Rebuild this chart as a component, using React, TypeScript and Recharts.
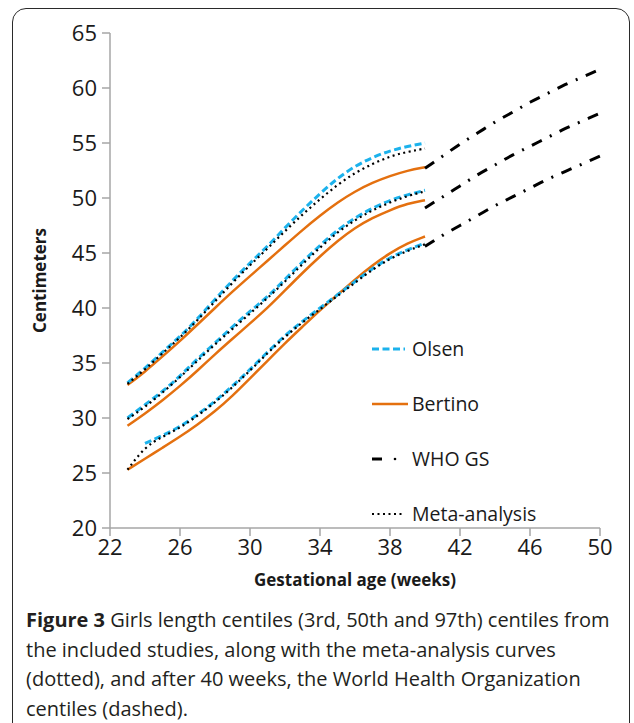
import React from "react";
import { LineChart, Line, XAxis, YAxis, Label } from "recharts";

// gestational weeks covered by the study curves and by the WHO extension
const studyWeeks = [23, 24, 25, 26, 27, 28, 29, 30, 31, 32, 33, 34, 35, 36, 37, 38, 39, 40];
const whoWeeks = [40, 41, 42, 43, 44, 45, 46, 47, 48, 49, 50];

// Olsen centiles (cm); 3rd centile starts at week 24
const olsen97 = [33.2, 34.5, 36.0, 37.4, 39.0, 40.8, 42.5, 44.1, 45.6, 47.3, 48.9, 50.4, 51.8, 52.9, 53.7, 54.3, 54.7, 55.0];
const olsen50 = [30.0, 31.2, 32.4, 33.8, 35.4, 36.8, 38.3, 39.7, 41.0, 42.6, 44.2, 45.7, 47.1, 48.2, 49.1, 49.8, 50.3, 50.7];
const olsen3 = [null, 27.7, 28.4, 29.2, 30.3, 31.5, 32.9, 34.4, 36.0, 37.5, 38.8, 40.0, 41.2, 42.4, 43.6, 44.6, 45.3, 45.9];

// Bertino centiles (cm)
const bertino97 = [33.0, 34.2, 35.6, 37.0, 38.5, 40.0, 41.5, 42.9, 44.3, 45.7, 47.1, 48.4, 49.6, 50.6, 51.4, 52.0, 52.5, 52.8];
const bertino50 = [29.3, 30.4, 31.6, 32.9, 34.3, 35.8, 37.2, 38.6, 40.0, 41.6, 43.2, 44.7, 46.1, 47.3, 48.2, 48.9, 49.5, 49.8];
const bertino3 = [25.3, 26.3, 27.3, 28.3, 29.4, 30.6, 32.0, 33.6, 35.2, 36.8, 38.3, 39.8, 41.2, 42.6, 43.9, 45.0, 45.9, 46.5];

// meta-analysis centiles (cm)
const meta97 = [33.1, 34.4, 35.9, 37.3, 38.9, 40.6, 42.3, 43.9, 45.4, 47.0, 48.5, 49.9, 51.2, 52.3, 53.1, 53.8, 54.2, 54.5];
const meta50 = [29.9, 31.0, 32.3, 33.7, 35.2, 36.7, 38.1, 39.5, 40.9, 42.4, 44.0, 45.5, 46.9, 48.0, 48.9, 49.6, 50.2, 50.6];
const meta3 = [25.3, 27.4, 28.3, 29.1, 30.2, 31.4, 32.8, 34.3, 35.9, 37.4, 38.7, 39.9, 41.1, 42.3, 43.5, 44.5, 45.2, 45.8];

// WHO growth standard centiles after 40 weeks (cm)
const who97 = [52.7, 53.8, 54.9, 55.9, 56.9, 57.8, 58.7, 59.5, 60.3, 61.0, 61.7];
const who50 = [49.1, 50.1, 51.1, 52.1, 53.0, 53.9, 54.7, 55.5, 56.3, 57.0, 57.7];
const who3 = [45.6, 46.6, 47.5, 48.4, 49.3, 50.1, 50.9, 51.7, 52.4, 53.1, 53.8];

const xTicks = [22, 26, 30, 34, 38, 42, 46, 50];
const yTicks = [20, 25, 30, 35, 40, 45, 50, 55, 60, 65];

const OLSEN = "#1cb2ec";
const BERTINO = "#e4700f";
const FONT = "'Open Sans', 'Noto Sans', sans-serif";

type Row = { week: number; [key: string]: number | null };

function buildRows(): Row[] {
  const rows: Record<number, Row> = {};
  const put = (weeks: number[], values: (number | null)[], key: string) => {
    weeks.forEach((w, i) => {
      if (!rows[w]) rows[w] = { week: w };
      rows[w][key] = values[i];
    });
  };
  put(studyWeeks, olsen97, "o97");
  put(studyWeeks, olsen50, "o50");
  put(studyWeeks, olsen3, "o3");
  put(studyWeeks, bertino97, "b97");
  put(studyWeeks, bertino50, "b50");
  put(studyWeeks, bertino3, "b3");
  put(studyWeeks, meta97, "m97");
  put(studyWeeks, meta50, "m50");
  put(studyWeeks, meta3, "m3");
  put(whoWeeks, who97, "w97");
  put(whoWeeks, who50, "w50");
  put(whoWeeks, who3, "w3");
  return Object.values(rows).sort((a, b) => a.week - b.week);
}

const data = buildRows();

const legendItems = [
  { name: "Olsen", kind: "olsen" },
  { name: "Bertino", kind: "bertino" },
  { name: "WHO GS", kind: "who" },
  { name: "Meta-analysis", kind: "meta" },
];

function LegendSymbol({ kind }: { kind: string }) {
  if (kind === "olsen")
    return <line x1={0} y1={8} x2={33} y2={8} stroke={OLSEN} strokeWidth={3} strokeDasharray="7 3.5" />;
  if (kind === "bertino")
    return <line x1={0} y1={8} x2={36} y2={8} stroke={BERTINO} strokeWidth={2.5} />;
  if (kind === "who")
    return (
      <g>
        <line x1={0} y1={8} x2={10} y2={8} stroke="#000" strokeWidth={3} />
        <circle cx={23} cy={8} r={1.3} fill="#000" />
      </g>
    );
  return <line x1={0} y1={8} x2={33} y2={8} stroke="#000" strokeWidth={2.2} strokeDasharray="2 3.5" />;
}

// legend drawn as an overlay so it does not eat into the plot area
function CentileLegend() {
  return (
    <div style={{ position: "absolute", left: 372, top: 321, fontFamily: FONT }}>
      {legendItems.map((item) => (
        <div key={item.name} style={{ display: "flex", alignItems: "center", height: 55 }}>
          <svg width={40} height={16} style={{ overflow: "visible" }}>
            <LegendSymbol kind={item.kind} />
          </svg>
          <span style={{ fontSize: 19.5, color: "#1a1a1a" }}>{item.name}</span>
        </div>
      ))}
    </div>
  );
}

export default function App() {
  const tickStyle = { fill: "#1a1a1a", fontSize: 22, fontFamily: FONT };
  const axisLine = { stroke: "#a6a6a6", strokeWidth: 1.5 };
  return (
    <div style={{ position: "fixed", left: 0, top: 0, width: 634, height: 723, overflow: "hidden", background: "#fff" }}>
      <div
        style={{
          position: "absolute",
          left: 12,
          top: 8,
          width: 616,
          height: 740,
          border: "1.5px solid #2a2a2a",
          borderRadius: 14,
        }}
      />
      <div style={{ position: "absolute", left: 0, top: 0 }}>
        <LineChart width={634} height={600} data={data} margin={{ top: 33, right: 34, bottom: 12, left: 20 }}>
          <XAxis
            dataKey="week"
            type="number"
            domain={[22, 50]}
            ticks={xTicks}
            tick={tickStyle}
            tickSize={8}
            tickMargin={3}
            axisLine={axisLine}
            tickLine={axisLine}
            height={60}
            interval={0}
          >
            <Label
              value="Gestational age (weeks)"
              position="insideBottom"
              offset={2}
              style={{ fontSize: 17, fontWeight: 700, fill: "#1a1a1a", fontFamily: FONT }}
            />
          </XAxis>
          <YAxis
            type="number"
            domain={[20, 65]}
            ticks={yTicks}
            tick={tickStyle}
            tickSize={8}
            tickMargin={5}
            axisLine={axisLine}
            tickLine={axisLine}
            width={90}
            interval={0}
          >
            <Label
              value="Centimeters"
              angle={-90}
              position="insideLeft"
              offset={20}
              style={{ fontSize: 17, fontWeight: 700, fill: "#1a1a1a", fontFamily: FONT, textAnchor: "middle" }}
            />
          </YAxis>

          {["b97", "b50", "b3"].map((k) => (
            <Line key={k} dataKey={k} type="basis" stroke={BERTINO} strokeWidth={2.5} dot={false} isAnimationActive={false} />
          ))}
          {["o97", "o50", "o3"].map((k) => (
            <Line key={k} dataKey={k} type="basis" stroke={OLSEN} strokeWidth={3} strokeDasharray="7 3.5" dot={false} isAnimationActive={false} />
          ))}
          {["m97", "m50", "m3"].map((k) => (
            <Line key={k} dataKey={k} type="basis" stroke="#000" strokeWidth={2.2} strokeDasharray="2 3.5" dot={false} isAnimationActive={false} />
          ))}
          {["w97", "w50", "w3"].map((k) => (
            <Line key={k} dataKey={k} type="monotone" stroke="#000" strokeWidth={3} strokeDasharray="11 9 2 9" dot={false} isAnimationActive={false} />
          ))}
        </LineChart>
      </div>
      <CentileLegend />
      <div
        style={{
          position: "absolute",
          left: 26,
          top: 605,
          fontFamily: FONT,
          fontSize: 20,
          lineHeight: "29.5px",
          color: "#231f20",
          whiteSpace: "nowrap",
        }}
      >
        <b>Figure 3</b> Girls length centiles (3rd, 50th and 97th) centiles from
        <br />
        the included studies, along with the meta-analysis curves
        <br />
        (dotted), and after 40 weeks, the World Health Organization
        <br />
        centiles (dashed).
      </div>
    </div>
  );
}
